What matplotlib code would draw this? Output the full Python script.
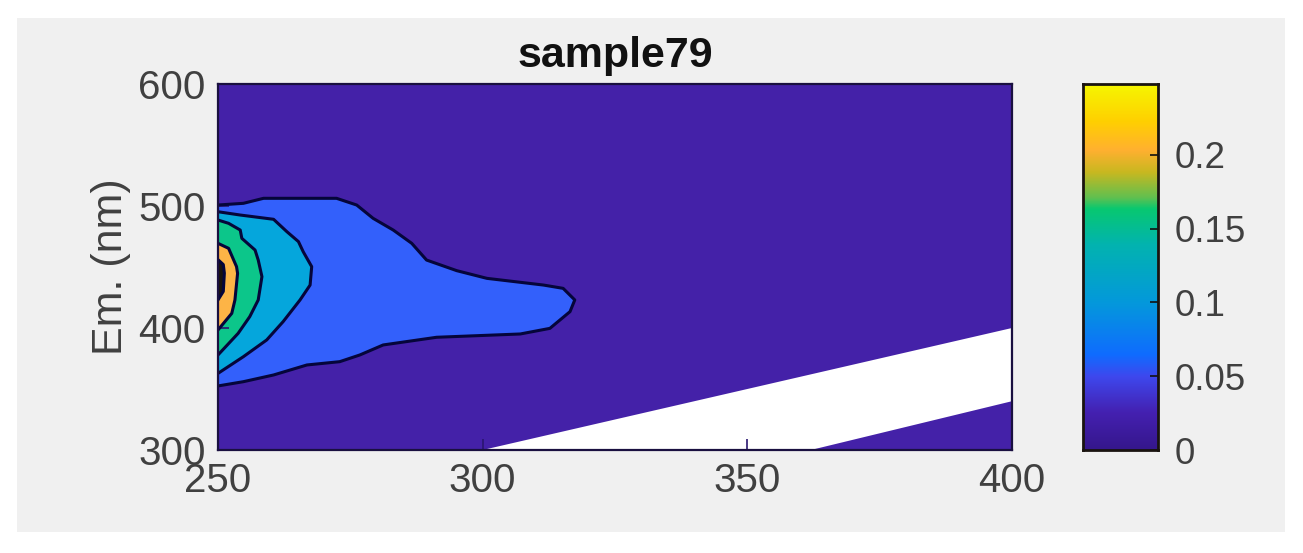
import numpy as np
import matplotlib
matplotlib.use('Agg')
import matplotlib.pyplot as plt
from matplotlib.colors import LinearSegmentedColormap
from matplotlib.patches import Rectangle

plt.rcParams['font.family'] = ['Liberation Sans', 'DejaVu Sans']

# contour outlines: excitation (nm), emission (nm)
ex_level1 = [250, 254.8, 258.6, 272.4, 276.2, 279.3, 283.1, 286.6, 289.4, 295.1, 300.8, 311.5, 315.2, 317.4,
             316.5, 312.7, 307.1, 291.3, 281.2, 276.8, 273, 266.8, 260.5, 254.8, 250]
em_level1 = [500.8, 502.2, 506.3, 506.3, 500.8, 489.9, 480.3, 469.4, 455.7, 447, 440.7, 435.2, 432.5, 423,
             413.4, 399.7, 395.1, 392.4, 386.1, 377.9, 372.4, 369.7, 361.5, 356, 352.5]

ex_level2 = [250, 254.2, 260.5, 263, 265.2, 266.1, 267.7, 267.4, 265.5, 262.3, 259.2, 254.8, 250]
em_level2 = [495.3, 492.6, 489.1, 479, 470.8, 462.5, 450.3, 435.2, 423, 405.2, 390.2, 376.5, 362.8]

ex_level3 = [250, 252, 254.2, 254.5, 257, 257.6, 258.3, 257.6, 256, 253.8, 250]
em_level3 = [488.5, 485.8, 480.3, 473.5, 463.9, 455.7, 442.1, 423, 409.3, 395.6, 377.9]

ex_level4 = [250, 252, 253.5, 253.7, 253.2, 252.6, 250]
em_level4 = [469.4, 465.3, 450.3, 444.8, 423, 412, 398.4]

ex_level5 = [250, 251, 251.2, 251, 250]
em_level5 = [456, 452, 445, 430, 423]

# region without data (scatter band)
ex_band = [300, 400, 400, 362]
em_band = [300, 400, 340, 300]

x_ticks = [250, 300, 350, 400]
y_ticks = [300, 400, 500, 600]
cbar_ticks = [0, 0.05, 0.1, 0.15, 0.2]
cbar_labels = ['0', '0.05', '0.1', '0.15', '0.2']
cbar_max = 0.248

W, H = 1303, 553
GRAY = '#404040'
LINE = '#05053a'

fig = plt.figure(figsize=(W / 100, H / 100), dpi=100, facecolor='white')
fig.patches.append(Rectangle((17 / W, 1 - 532 / H), 1268 / W, 514 / H, transform=fig.transFigure,
                             facecolor='#f0f0f0', edgecolor='none', zorder=-1))

ax = fig.add_axes([218 / W, 1 - 450 / H, 794 / W, 366 / H])
ax.set_facecolor('#4421a8')
ax.set_xlim(250, 400)
ax.set_ylim(300, 600)

ax.fill(ex_band, em_band, color='white', lw=0)

levels = [(ex_level1, em_level1, '#3360fb'),
          (ex_level2, em_level2, '#05a6dc'),
          (ex_level3, em_level3, '#0cc68a'),
          (ex_level4, em_level4, '#fdb446'),
          (ex_level5, em_level5, '#1a120c')]
for ex, em, col in levels:
    ax.fill(ex, em, color=col, lw=0)
    ax.plot(ex, em, color=LINE, lw=2.2, solid_joinstyle='round', clip_on=True)

ax.set_xticks(x_ticks)
ax.set_yticks(y_ticks)
ax.tick_params(direction='in', length=8, width=1.2, labelsize=29, labelcolor=GRAY, color='#2a1670', pad=9)
ax.tick_params(top=False, right=False)
for s in ax.spines.values():
    s.set_linewidth(1.6)
    s.set_color('#1a1040')
ax.set_ylabel('Em. (nm)', fontsize=31, color=GRAY, labelpad=5)
ax.set_title('sample79', fontsize=31, fontweight='bold', color='#111111', pad=12)

# colour bar, same height as the main axes
cmap = LinearSegmentedColormap.from_list('bar', [
    (0.0, '#35178c'), (0.10, '#4420b0'), (0.20, '#3e48ee'), (0.26, '#0f6cff'), (0.40, '#0498dc'),
    (0.56, '#02b3b0'), (0.66, '#08c870'), (0.69, '#60c050'), (0.76, '#c8b820'), (0.82, '#ffb030'),
    (0.90, '#ffd000'), (1.0, '#f6f600')])
cax = fig.add_axes([1083 / W, 1 - 450 / H, 75 / W, 366 / H])
cax.imshow(np.linspace(0, 1, 256)[:, None], origin='lower', aspect='auto', cmap=cmap,
           extent=[0, 1, 0, cbar_max])
cax.set_xticks([])
cax.yaxis.tick_right()
cax.set_yticks(cbar_ticks)
cax.set_yticklabels(cbar_labels)
cax.tick_params(direction='in', length=6, width=1.2, labelsize=26.5, labelcolor=GRAY, color='#111111', pad=12)
for s in cax.spines.values():
    s.set_linewidth(2)
    s.set_color('#1a1410')

fig.savefig('out.png', dpi=100, facecolor='white')
